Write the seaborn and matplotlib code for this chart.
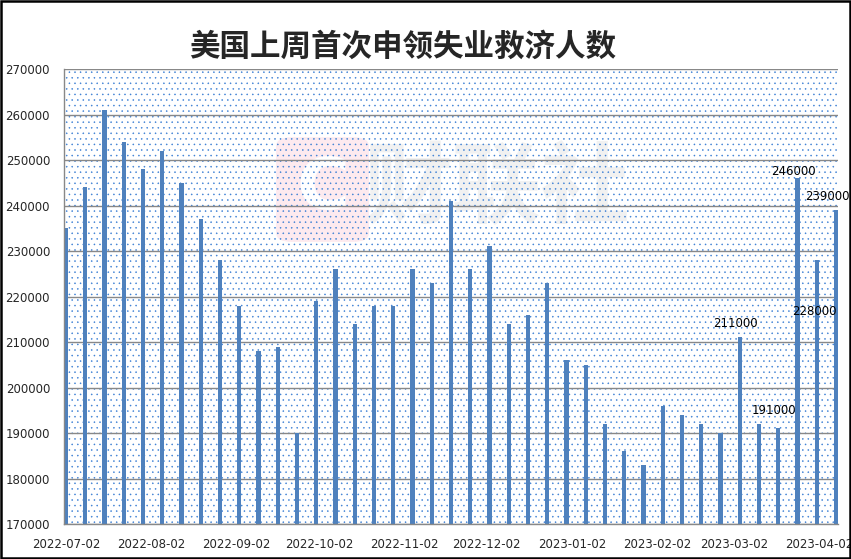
import datetime as dt

import matplotlib
matplotlib.use("Agg")
import matplotlib.dates as mdates
import matplotlib.pyplot as plt
from matplotlib.patches import Rectangle, FancyBboxPatch
import seaborn as sns

# weekly initial jobless claims, week ending Saturday
start_date = dt.date(2022, 7, 2)
claims = [235000, 244000, 261000, 254000, 248000, 252000, 245000, 237000,
          228000, 218000, 208000, 209000, 190000, 219000, 226000, 214000,
          218000, 218000, 226000, 223000, 241000, 226000, 231000, 214000,
          216000, 223000, 206000, 205000, 192000, 186000, 183000, 196000,
          194000, 192000, 190000, 211000, 192000, 191000, 246000, 228000,
          239000]
weeks = [start_date + dt.timedelta(days=7 * i) for i in range(len(claims))]

# which bars carry a value label, and the label offset in points
label_offsets = {35: (-3, 10), 37: (-3, 13), 38: (-3, 5), 39: (-1.5, -37), 40: (-6, 10)}

title = "美国上周首次申领失业救济人数"
bar_color = "#4f81bd"

sns.set_style("white")
plt.rcParams["font.family"] = ["DejaVu Sans"]
plt.rcParams["hatch.color"] = "#3b7fd4"
plt.rcParams["hatch.linewidth"] = 0.35

fig = plt.figure(figsize=(8.51, 5.59), dpi=100)
ax = fig.add_axes([64 / 851, 1 - 524 / 559, 774 / 851, 455 / 559])
ax.set_facecolor("white")

# faint watermark, under the dot pattern
ax.add_patch(FancyBboxPatch((0.274, 0.62), 0.12, 0.23, transform=ax.transAxes,
                            boxstyle="round,pad=0,rounding_size=0.02",
                            facecolor="#fdeaef", edgecolor="none", zorder=0.1))
ax.text(0.334, 0.735, "C", transform=ax.transAxes, fontsize=52, fontweight="bold",
        color="white", ha="center", va="center", zorder=0.2)
ax.text(0.56, 0.735, "财联社", transform=ax.transAxes, fontsize=64, fontweight="bold",
        color="#f1f1f1", ha="center", va="center", zorder=0.2,
        family=["Noto Sans CJK SC"])

# dotted plot background
ax.add_patch(Rectangle((0, 0), 1, 1, transform=ax.transAxes, facecolor="none",
                       edgecolor="#3b7fd4", hatch="...", linewidth=0, zorder=0.5))

x = mdates.date2num(weeks)
sns.barplot(x=x, y=claims, native_scale=True, color=bar_color,
            saturation=1, errorbar=None, ax=ax, zorder=3)
# slim bars, about 1.5 days wide, centred on each week
for bar, xc in zip(ax.patches[-len(claims):], x):
    bar.set_width(1.5)
    bar.set_x(xc - 0.75)
    bar.set_edgecolor("none")

for i, (dx, dy) in label_offsets.items():
    ax.annotate(f"{claims[i]}", (x[i], claims[i]), xytext=(dx, dy),
                textcoords="offset points", ha="center", va="center",
                fontsize=8.5, color="black", zorder=5)

ax.set_ylim(170000, 270000)
ax.set_yticks(range(170000, 270001, 10000))
ax.set_xlim(x[0] - 0.75, x[-1] + 0.75)
ax.xaxis.set_major_locator(mdates.MonthLocator(bymonthday=2))
ax.xaxis.set_major_formatter(mdates.DateFormatter("%Y-%m-%d"))

ax.grid(axis="y", color="#888888", linewidth=1)
ax.set_axisbelow(False)
for line in ax.get_ygridlines():
    line.set_zorder(1)
ax.tick_params(axis="x", length=4, color="#888888", direction="out", labelsize=8.5, pad=6)
ax.tick_params(axis="y", length=0, labelsize=8.5, pad=10)
for side in ["top", "right"]:
    ax.spines[side].set_visible(False)
for side in ["left", "bottom"]:
    ax.spines[side].set_color("#888888")
    ax.spines[side].set_linewidth(1)
    ax.spines[side].set_zorder(4)

fig.text(403 / 851, 1 - 47 / 559, title, ha="center", va="center", fontsize=22,
         fontweight="bold", family=["Noto Sans CJK SC", "DejaVu Sans"])

# outer frame
fig.add_artist(Rectangle((0.001, 0.002), 0.998, 0.996, transform=fig.transFigure,
                         fill=False, edgecolor="black", linewidth=1.8))

fig.savefig("out.png", dpi=100)
